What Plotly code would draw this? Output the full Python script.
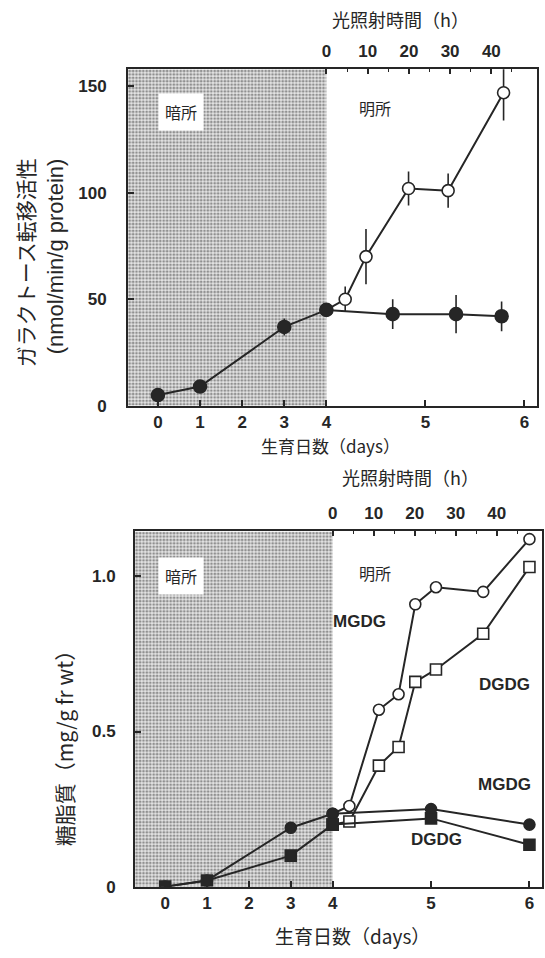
import plotly.graph_objects as go

# ---------------- data ----------------
DAY_TICKS = [0, 1, 2, 3, 4, 5, 6]
HOUR_TICKS = [0, 10, 20, 30, 40]
HOUR_MINOR = [5, 15, 25, 35, 45]
LIGHT_START_DAY = 4

# Top panel: galactosyltransferase activity (nmol/min/g protein)
top_dark_days = [0, 1, 3, 4, 4.67, 5.31, 5.77]
top_dark_vals = [5, 9, 37, 45, 43, 43, 42]
top_dark_err = [2, 3, 4, 2, 7, 9, 7]

top_light_days = [4, 4.19, 4.40, 4.83, 5.23, 5.79]
top_light_vals = [45, 50, 70, 102, 101, 147]
top_light_err = [0, 6, 13, 8, 8, 13]

# Bottom panel: glycolipids (mg/g fr wt)
mgdg_dark_days = [0, 1, 3, 4, 5, 6]
mgdg_dark_vals = [0.0, 0.02, 0.19, 0.235, 0.25, 0.20]
dgdg_dark_days = [0, 1, 3, 4, 5, 6]
dgdg_dark_vals = [0.0, 0.02, 0.10, 0.20, 0.22, 0.135]

mgdg_light_days = [4, 4.17, 4.47, 4.67, 4.84, 5.05, 5.53, 6.0]
mgdg_light_vals = [0.235, 0.26, 0.57, 0.62, 0.91, 0.965, 0.95, 1.12]
dgdg_light_days = [4, 4.17, 4.47, 4.67, 4.84, 5.05, 5.53, 6.0]
dgdg_light_vals = [0.20, 0.21, 0.39, 0.45, 0.66, 0.70, 0.815, 1.03]

# ---------------- axis transform (broken scale: light period expanded) ----------------
R = 2.35


def u(d):
    return d if d <= LIGHT_START_DAY else LIGHT_START_DAY + R * (d - LIGHT_START_DAY)


def uh(h):
    return u(LIGHT_START_DAY + h / 24.0)


W, H = 545, 958
INK = "#262626"
NUM_FONT = dict(family="Liberation Sans, Arial, sans-serif", size=17, color=INK, weight="bold")
JP = "Noto Sans CJK JP, Liberation Sans, sans-serif"

TOP_X = [-0.71, 9.0]
TOP_Y = [0, 158]
BOT_X = [-0.72, 9.0]
BOT_Y = [0, 1.145]

fig = go.Figure()


def shade(xr, yr, xa, ya):
    fig.add_trace(go.Scatter(
        x=[xr[0], u(LIGHT_START_DAY), u(LIGHT_START_DAY), xr[0], xr[0]],
        y=[yr[0], yr[0], yr[1], yr[1], yr[0]],
        xaxis=xa, yaxis=ya, mode="lines", fill="toself",
        line=dict(width=0, color="rgba(0,0,0,0)"),
        fillcolor="white",
        fillpattern=dict(shape=".", fgcolor="#3c3c3c", bgcolor="#e4e4e4", size=3.4, solidity=0.5),
        hoverinfo="skip", showlegend=False))


shade(TOP_X, TOP_Y, "x", "y")
shade(BOT_X, BOT_Y, "x3", "y2")

# invisible anchors so the top (hours) axes get drawn
for xa, ya in (("x2", "y"), ("x4", "y2")):
    fig.add_trace(go.Scatter(x=[u(LIGHT_START_DAY)], y=[None], xaxis=xa, yaxis=ya,
                             mode="markers", marker=dict(opacity=0),
                             hoverinfo="skip", showlegend=False))

LINE = dict(color=INK, width=2)


def series(days, vals, xa, ya, symbol, filled, size=12, err=None):
    fig.add_trace(go.Scatter(
        x=[u(d) for d in days], y=vals, xaxis=xa, yaxis=ya,
        mode="lines+markers", line=LINE,
        marker=dict(symbol=symbol, size=size,
                    color=INK if filled else "white",
                    line=dict(color=INK, width=1.6)),
        error_y=None if err is None else dict(type="data", array=err, visible=True,
                                              color=INK, thickness=1.6, width=0),
        showlegend=False))


# top panel
series(top_light_days, top_light_vals, "x", "y", "circle", False, 12, top_light_err)
series(top_dark_days, top_dark_vals, "x", "y", "circle", True, 13, top_dark_err)

# bottom panel
series(mgdg_light_days, mgdg_light_vals, "x3", "y2", "circle", False, 11)
series(dgdg_light_days, dgdg_light_vals, "x3", "y2", "square", False, 11)
series(mgdg_dark_days, mgdg_dark_vals, "x3", "y2", "circle", True, 11)
series(dgdg_dark_days, dgdg_dark_vals, "x3", "y2", "square", True, 11)

axis_common = dict(showgrid=False, zeroline=False, showline=True, linecolor=INK,
                   linewidth=2, ticks="inside", tickcolor=INK, tickwidth=1.5,
                   tickfont=NUM_FONT)

day_axis = dict(axis_common, tickmode="array", tickvals=[u(d) for d in DAY_TICKS],
                ticktext=[str(d) for d in DAY_TICKS], ticklen=6, mirror=True,
                ticklabelstandoff=0)

hour_axis = dict(showgrid=False, zeroline=False, showline=False, side="top",
                 ticks="inside", tickcolor=INK, tickwidth=1.5, ticklen=5,
                 tickmode="array", tickvals=[uh(h) for h in HOUR_TICKS],
                 ticktext=[str(h) for h in HOUR_TICKS], tickfont=NUM_FONT,
                 ticklabelstandoff=8,
                 minor=dict(tickmode="array", tickvals=[uh(h) for h in HOUR_MINOR],
                            ticks="inside", ticklen=3, tickcolor=INK, tickwidth=1.2))

fig.update_layout(
    width=W, height=H, margin=dict(l=0, r=0, t=0, b=0),
    paper_bgcolor="white", plot_bgcolor="white",
    xaxis=dict(day_axis, domain=[128 / W, 537 / W], range=TOP_X, anchor="y"),
    xaxis2=dict(hour_axis, overlaying="x", anchor="y", range=TOP_X),
    yaxis=dict(axis_common, domain=[1 - 410 / H, 1 - 70 / H], range=TOP_Y, anchor="x",
               tickvals=[0, 50, 100, 150], ticklen=6, mirror=True, ticklabelstandoff=16),
    xaxis3=dict(day_axis, domain=[135 / W, 542 / W], range=BOT_X, anchor="y2"),
    xaxis4=dict(hour_axis, overlaying="x3", anchor="y2", range=BOT_X),
    yaxis2=dict(axis_common, domain=[1 - 896 / H, 1 - 537 / H], range=BOT_Y, anchor="x3",
                tickvals=[0, 0.5, 1.0], ticktext=["0", "0.5", "1.0"], ticklen=6,
                mirror=True, ticklabelstandoff=14),
)

ann = []


def pa(text, px, py, size=17, angle=0, family=JP, weight="normal"):
    ann.append(dict(text=text, x=px / W, y=1 - py / H, xref="paper", yref="paper",
                    showarrow=False, textangle=angle, xanchor="center", yanchor="middle",
                    font=dict(family=family, size=size, color=INK, weight=weight)))


pa("光照射時間（h）", 400, 19, size=18)
pa("生育日数（days）", 330, 450, size=17)
pa("ガラクトース転移活性", 25, 266, size=21, angle=-90)
pa("(nmol/min/g protein)", 55, 259, size=22, angle=-90,
   family="Liberation Sans, Arial, sans-serif")
pa("光照射時間（h）", 410, 482, size=18)
pa("生育日数（days）", 352, 945, size=19)
pa("糖脂質（mg/g fr wt）", 64, 751, size=21, angle=-90)


def da(text, x, y, xr, yr, size=16, bg=None, weight="normal", family=JP):
    d = dict(text=text, x=x, y=y, xref=xr, yref=yr, showarrow=False,
             xanchor="center", yanchor="middle",
             font=dict(family=family, size=size, color=INK, weight=weight))
    if bg:
        d.update(bgcolor=bg, borderpad=6)
    ann.append(d)


BOLD = "Liberation Sans, Arial, sans-serif"
da("暗所", 0.55, 138, "x", "y", bg="white")
da("明所", 5.15, 140, "x", "y")
da("暗所", 0.38, 1.0, "x3", "y2", bg="white")
da("明所", 5.0, 1.01, "x3", "y2")
da("MGDG", 4.65, 0.855, "x3", "y2", size=17, weight="bold", family=BOLD)
da("DGDG", 8.11, 0.65, "x3", "y2", size=17, weight="bold", family=BOLD)
da("MGDG", 8.11, 0.33, "x3", "y2", size=17, weight="bold", family=BOLD)
da("DGDG", 6.49, 0.153, "x3", "y2", size=17, weight="bold", family=BOLD)

fig.update_layout(annotations=ann)
fig.write_html("out.html")
